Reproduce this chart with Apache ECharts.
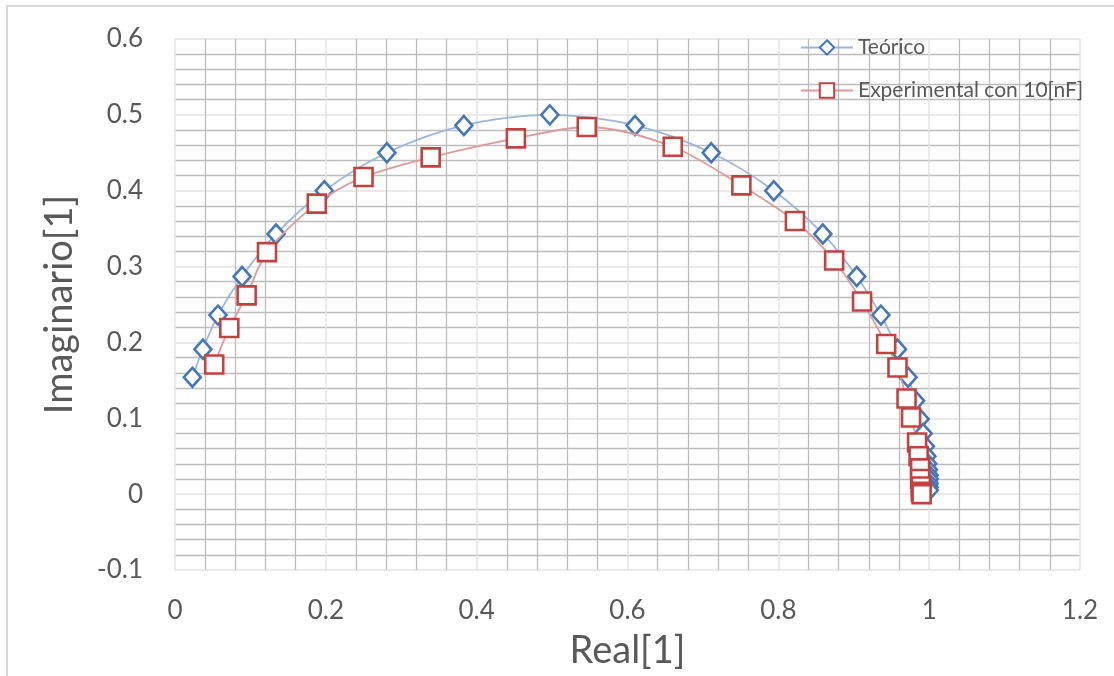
<!DOCTYPE html>
<html>
<head>
<meta charset="utf-8">
<script src="https://cdn.jsdelivr.net/npm/echarts@6/dist/echarts.min.js"></script>
<style>
  html, body { margin: 0; padding: 0; background: #fff; overflow: hidden; }
  #frame { position: absolute; left: 6px; top: 5px; width: 1300px; height: 900px; border: 2px solid #d9d9d9; box-sizing: border-box; }
  #myChart { position: absolute; left: 0; top: 0; width: 1114px; height: 676px; }
</style>
</head>
<body>
<div id="frame"></div>
<div id="myChart"></div>
<script>
// Teórico (real, imaginario)
var teoReal = [0.023, 0.037, 0.057, 0.089, 0.134, 0.198, 0.281, 0.383, 0.497, 0.610, 0.711, 0.794, 0.859, 0.904, 0.936, 0.958, 0.972, 0.982, 0.988, 0.992, 0.995, 0.997, 0.998, 0.999, 1.0, 1.0, 1.0, 1.0, 1.0]
var teoImag = [0.154, 0.191, 0.236, 0.287, 0.343, 0.400, 0.450, 0.486, 0.500, 0.486, 0.450, 0.400, 0.343, 0.287, 0.236, 0.191, 0.154, 0.123, 0.099, 0.080, 0.063, 0.050, 0.040, 0.032, 0.025, 0.020, 0.014, 0.009, 0.005]
// Experimental con 10[nF]
var expReal = [0.052, 0.072, 0.095, 0.122, 0.188, 0.250, 0.339, 0.452, 0.546, 0.660, 0.751, 0.822, 0.874, 0.911, 0.943, 0.958, 0.970, 0.976, 0.984, 0.986, 0.988, 0.988, 0.989, 0.989, 0.990]
var expImag = [0.171, 0.219, 0.262, 0.319, 0.383, 0.418, 0.444, 0.469, 0.484, 0.458, 0.407, 0.360, 0.308, 0.254, 0.198, 0.167, 0.126, 0.101, 0.068, 0.050, 0.034, 0.020, 0.010, 0.003, 0.000]

var xTicks = { min: 0, max: 1.2, interval: 0.2 }
var yTicks = { min: -0.1, max: 0.6, interval: 0.1 }

function pairs (xs, ys) {
  var out = []
  for (var i = 0; i < xs.length; i++) out.push([xs[i], ys[i]])
  return out
}

var font = 'Lato, "Open Sans", sans-serif'
var myChart = echarts.init(document.getElementById('myChart'))

var gridLine = { show: true, lineStyle: { color: '#e3e3e3', width: 1.5 } }
var minorLine = { show: true, lineStyle: { color: '#bcbcbc', width: 1.3 } }

var option = {
  animation: false,
  grid: { left: 175, right: 34, top: 39, bottom: 106 },
  legend: {
    orient: 'vertical',
    left: 795,
    top: 32,
    itemWidth: 52,
    itemHeight: 18,
    itemGap: 22,
    textStyle: { fontFamily: font, fontSize: 21, color: '#595959' },
    data: ['Teórico', 'Experimental con 10[nF]']
  },
  xAxis: {
    type: 'value',
    min: xTicks.min,
    max: xTicks.max,
    interval: xTicks.interval,
    name: 'Real[1]',
    nameLocation: 'middle',
    nameGap: 62,
    nameTextStyle: { fontFamily: font, fontSize: 38, color: '#595959' },
    axisLine: { show: false },
    axisTick: { show: false },
    axisLabel: { fontFamily: font, fontSize: 26, color: '#595959', margin: 28 },
    splitLine: gridLine,
    minorTick: { show: false, splitNumber: 5 },
    minorSplitLine: minorLine
  },
  yAxis: {
    type: 'value',
    min: yTicks.min,
    max: yTicks.max,
    interval: yTicks.interval,
    name: 'Imaginario[1]',
    nameLocation: 'middle',
    nameGap: 96,
    nameTextStyle: { fontFamily: font, fontSize: 38, color: '#595959' },
    axisLine: { show: false },
    axisTick: { show: false },
    axisLabel: { fontFamily: font, fontSize: 26, color: '#595959', margin: 32, padding: [8, 0, 0, 0] },
    splitLine: gridLine,
    minorTick: { show: false, splitNumber: 5 },
    minorSplitLine: minorLine
  },
  series: [
    {
      name: 'Teórico',
      type: 'line',
      smooth: 0.3,
      symbol: 'diamond',
      symbolSize: [17, 19],
      data: pairs(teoReal, teoImag),
      lineStyle: { color: '#9ab6dd', width: 1.8 },
      itemStyle: { color: '#ffffff', borderColor: '#4576b8', borderWidth: 2.6 },
      z: 3
    },
    {
      name: 'Experimental con 10[nF]',
      type: 'line',
      smooth: 0.3,
      symbol: 'rect',
      symbolSize: 18,
      data: pairs(expReal, expImag),
      lineStyle: { color: '#dd9a9a', width: 1.8 },
      itemStyle: { color: '#ffffff', borderColor: '#c0433f', borderWidth: 2.6 },
      z: 4
    }
  ]
}
myChart.setOption(option)
</script>
</body>
</html>
